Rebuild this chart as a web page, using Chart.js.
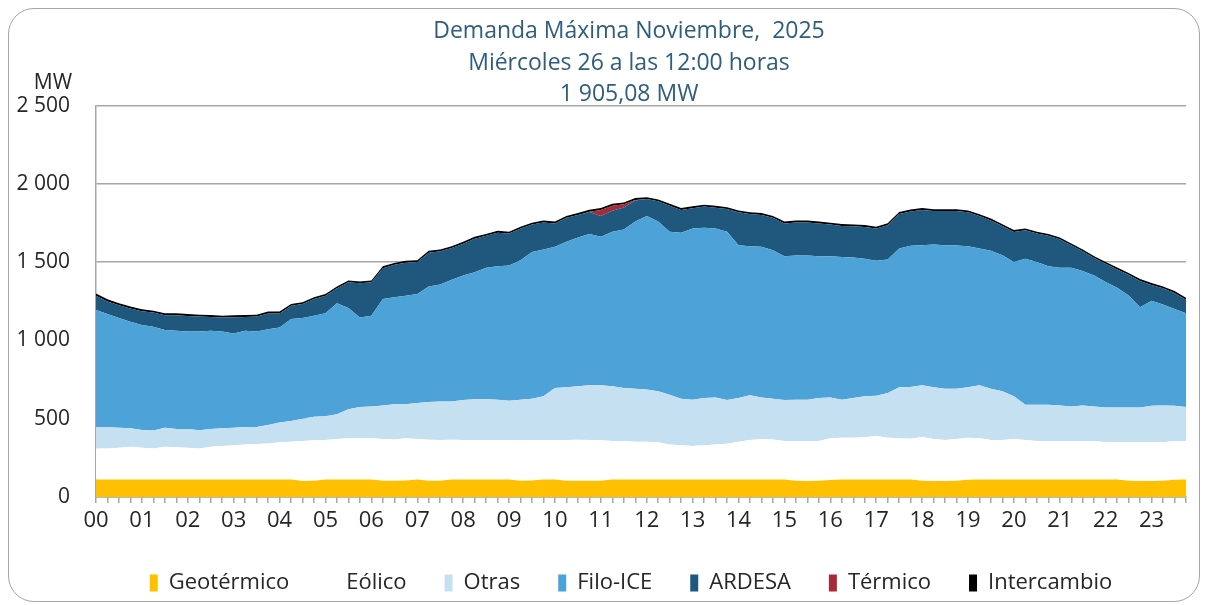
<!DOCTYPE html>
<html>
<head>
<meta charset="utf-8">
<title>Demanda Máxima Noviembre 2025</title>
<script src="https://cdn.jsdelivr.net/npm/chart.js"></script>
<style>
  body { margin: 0; background: #fff; }
  #wrap { position: relative; width: 1212px; height: 605px; }
  #marco {
    position: absolute; left: 8px; top: 8px;
    width: 1192px; height: 594px; box-sizing: border-box;
    border: 1.5px solid #a6a6a6; border-radius: 26px;
  }
  #grafico { position: absolute; left: 0; top: 0; }
</style>
</head>
<body>
<div id="wrap">
  <div id="marco"></div>
  <canvas id="grafico" width="1212" height="605"></canvas>
</div>
<script>
  // etiquetas del eje horizontal (una por hora, datos cada 15 min)
  const horas = ['00','01','02','03','04','05','06','07','08','09','10','11',
                 '12','13','14','15','16','17','18','19','20','21','22','23'];

  // MW por fuente (96 cuartos de hora)
  const geotermico = [
    112,112,112,112, 112,112,112,112, 112,112,112,112, 112,112,112,112,
    112,112,102,104, 112,112,112,112, 112,104,104,106, 112,104,104,112,
    112,112,112,112, 112,104,106,112, 112,104,104,104, 104,112,112,112,
    112,112,112,112, 112,112,112,112, 112,112,112,112, 112,104,102,104,
    108,112,112,112, 112,112,112,112, 104,102,102,104, 110,112,112,112,
    112,112,112,112, 112,112,112,112, 112,112,104,102, 102,104,110,112
  ];
  const eolico = [
    198,198,202,209, 202,198,209,205, 202,198,209,213, 219,224,226,230,
    237,241,255,258, 252,258,263,265, 263,266,264,269, 258,262,260,254,
    252,252,252,252, 252,258,258,252, 252,260,262,260, 258,245,245,241,
    241,237,224,219, 213,219,224,228, 241,252,258,256, 245,253,255,253,
    267,267,267,269, 278,267,263,260, 279,268,262,266, 269,263,252,252,
    258,252,245,245, 245,245,245,245, 237,237,245,247, 247,245,247,245
  ];
  const otras = [
    135,135,129,118, 114,114,122,117, 120,116,113,114, 112,111,109,118,
    126,133,142,150, 152,159,186,198, 203,215,225,218, 230,240,246,244,
    255,261,261,257, 251,259,264,279, 332,337,341,350, 352,350,339,339,
    333,326,317,297, 296,301,300,279, 279,285,266,260, 262,264,264,275,
    261,242,253,262, 257,285,326,330, 331,331,328,322, 322,339,328,311,
    273,225,232,232, 228,221,228,221, 223,223,223,223, 234,236,226,217
  ];
  const filoICE = [
    749,723,700,680, 670,663,623,627, 623,631,627,618, 601,614,610,612,
    608,650,644,646, 657,708,646,572, 580,680,683,693, 697,738,747,777,
    796,811,839,852, 864,891,937,938, 902,929,951,966, 948,987,1013,1067,
    1109,1084,1041,1059, 1094,1087,1079,1075, 976,953,962,948, 919,921,921,906,
    902,912,897,879, 861,852,886,903, 894,911,916,914, 901,873,880,869,
    858,933,912,884, 879,886,858,837, 801,764,715,640, 671,644,618,599
  ];
  const ardesa = [
    91,81,82,85, 89,91,95,100, 99,95,89,89, 104,89,95,100,
    89,85,89,106, 112,96,164,218, 213,196,207,210, 203,216,212,203,
    203,214,204,215, 203,202,175,172, 149,153,143,140, 133,134,140,134,
    108,129,166,146, 129,136,133,145, 210,205,203,207, 209,211,211,209,
    202,198,200,203, 206,220,221,219, 225,214,218,220, 216,207,194,186,
    192,181,181,195, 182,143,126,111, 116,117,132,168, 100,104,102,87
  ];
  const termico = [
    0,0,0,0, 0,0,0,0, 0,0,0,0, 0,0,0,0,
    0,0,0,0, 0,0,0,0, 0,0,0,0, 0,0,0,0,
    0,0,0,0, 0,0,0,0, 0,0,0,2, 38,32,20,4,
    0,0,0,0, 0,0,0,0, 0,0,0,0, 0,0,0,0,
    0,0,0,0, 0,0,0,0, 0,0,0,0, 0,0,0,0,
    0,0,0,0, 0,0,0,0, 0,0,0,0, 0,0,0,0
  ];
  const intercambio = [
    14,14,13,13, 12,12,12,12, 12,12,12,12, 12,12,12,12,
    12,12,12,12, 12,12,12,12, 12,12,12,12, 12,12,12,12,
    12,12,12,12, 12,12,12,12, 12,12,12,12, 12,12,12,12,
    12,12,12,12, 12,12,12,12, 12,12,12,12, 12,12,12,12,
    12,12,12,12, 12,12,12,12, 12,12,12,12, 12,12,12,12,
    12,12,12,12, 12,12,12,12, 12,12,12,12, 12,12,12,12
  ];

  const categorias = [];
  horas.forEach(h => ['00', '15', '30', '45'].forEach(m => categorias.push(h + ':' + m)));

  const fuente = 'Open Sans';
  const gris = '#a6a6a6';
  const texto = '#262626';

  function serie(label, data, color, fill) {
    return {
      label, data, fill,
      backgroundColor: color, borderColor: color,
      borderWidth: 0, pointRadius: 0, tension: 0
    };
  }

  function miles(v) {
    if (v < 1000) return String(v);
    return Math.floor(v / 1000) + ' ' + String(v % 1000).padStart(3, '0');
  }

  // rótulo "MW" sobre el eje vertical
  const rotuloMW = {
    id: 'rotuloMW',
    afterDraw(chart) {
      const ctx = chart.ctx;
      ctx.save();
      ctx.font = '21px "' + fuente + '"';
      ctx.fillStyle = texto;
      ctx.textAlign = 'center';
      ctx.textBaseline = 'middle';
      ctx.fillText('MW', chart.chartArea.left - 43, chart.chartArea.top - 23);
      ctx.restore();
    }
  };

  // título y leyenda van un poco a la derecha del centro, como en el original
  const desplazar = {
    id: 'desplazar',
    afterLayout(chart) {
      chart.titleBlock.left += 32;
      chart.titleBlock.right += 32;
      chart.legend.left += 34;
      chart.legend.right += 34;
    }
  };

  new Chart(document.getElementById('grafico'), {
    type: 'line',
    data: {
      labels: categorias,
      datasets: [
        serie('Geotérmico', geotermico, '#ffc000', 'origin'),
        serie('Eólico', eolico, '#ffffff', '-1'),
        serie('Otras', otras, '#c5e0f1', '-1'),
        serie('Filo-ICE', filoICE, '#4da3d8', '-1'),
        serie('ARDESA', ardesa, '#1f587c', '-1'),
        serie('Térmico', termico, '#a52a3a', '-1'),
        serie('Intercambio', intercambio, '#000000', '-1')
      ]
    },
    options: {
      responsive: false,
      animation: false,
      devicePixelRatio: 1,
      layout: { padding: { left: 8, right: 26, top: 0, bottom: 1 } },
      plugins: {
        title: {
          display: true,
          text: ['Demanda Máxima Noviembre,  2025', 'Miércoles 26 a las 12:00 horas', '1 905,08 MW'],
          color: '#2f5d7c',
          font: { family: fuente, size: 23, weight: 'normal', lineHeight: 1.37 },
          padding: { top: 16, bottom: -5 }
        },
        legend: {
          position: 'bottom',
          labels: {
            color: texto,
            font: { family: fuente, size: 22 },
            boxWidth: 8,
            boxHeight: 17,
            padding: 38
          }
        },
        tooltip: { enabled: false }
      },
      scales: {
        x: {
          grid: { drawOnChartArea: false, drawTicks: true, tickLength: 6, color: gris, lineWidth: 1.5 },
          border: { color: gris, width: 1.5 },
          ticks: {
            autoSkip: false, maxRotation: 0, padding: 5,
            color: texto, font: { family: fuente, size: 22 },
            callback: (v, i) => (i % 4 === 0 ? horas[i / 4] : '')
          },
          afterFit: s => { s.height = 37; }
        },
        y: {
          stacked: true,
          min: 0, max: 2500,
          grid: { color: gris, lineWidth: 1.5, drawTicks: false },
          border: { color: gris, width: 1.5 },
          ticks: {
            stepSize: 500, padding: 26,
            color: texto, font: { family: fuente, size: 21 },
            callback: v => miles(v)
          },
          afterFit: s => { s.width = 88; }
        }
      }
    },
    plugins: [rotuloMW, desplazar]
  });
</script>
</body>
</html>
